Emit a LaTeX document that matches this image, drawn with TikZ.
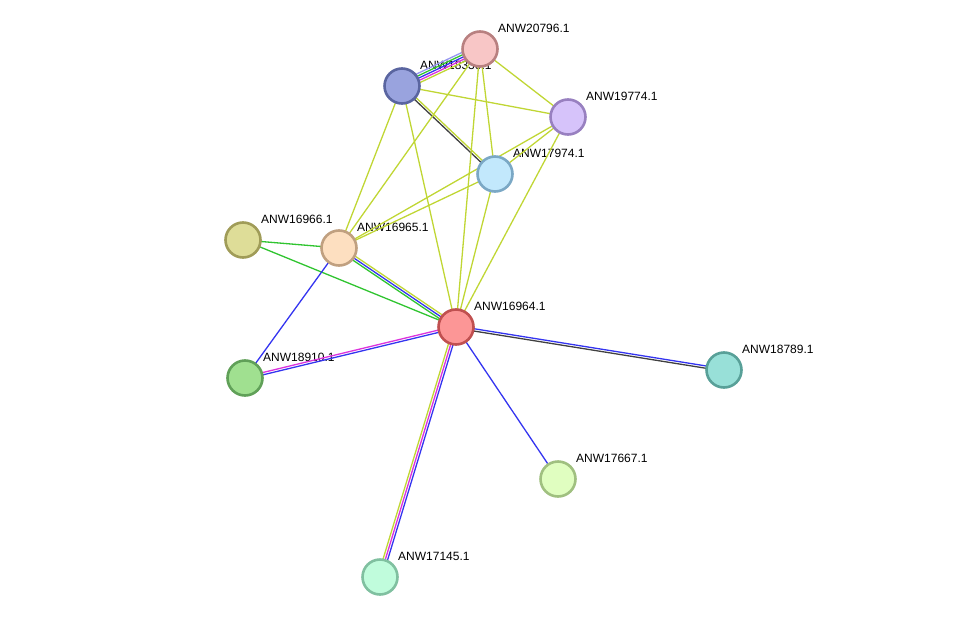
\documentclass[tikz,border=0pt]{standalone}
\usepackage{fontspec}
\setmainfont{Liberation Sans}
\usetikzlibrary{calc}
\pgfdeclarelayer{lab}
\pgfdeclarelayer{edge}
\pgfsetlayers{lab,edge,main}
\definecolor{tm}{RGB}{192,214,52}
\definecolor{gr}{RGB}{48,196,48}
\definecolor{bl}{RGB}{52,52,240}
\definecolor{mg}{RGB}{220,50,220}
\definecolor{dk}{RGB}{64,64,64}
\definecolor{lv}{RGB}{150,150,240}
\definecolor{f20796}{RGB}{248,198,198}\definecolor{d20796}{RGB}{184,128,128}
\definecolor{f18330}{RGB}{153,163,222}\definecolor{d18330}{RGB}{90,101,160}
\definecolor{f19774}{RGB}{214,195,250}\definecolor{d19774}{RGB}{152,128,192}
\definecolor{f17974}{RGB}{194,232,252}\definecolor{d17974}{RGB}{123,168,197}
\definecolor{f16966}{RGB}{222,221,152}\definecolor{d16966}{RGB}{160,156,88}
\definecolor{f16965}{RGB}{253,223,192}\definecolor{d16965}{RGB}{192,160,128}
\definecolor{f16964}{RGB}{252,150,150}\definecolor{d16964}{RGB}{192,80,80}
\definecolor{f18910}{RGB}{160,224,144}\definecolor{d18910}{RGB}{96,160,88}
\definecolor{f18789}{RGB}{152,224,216}\definecolor{d18789}{RGB}{88,160,152}
\definecolor{f17667}{RGB}{224,254,192}\definecolor{d17667}{RGB}{160,192,128}
\definecolor{f17145}{RGB}{192,252,220}\definecolor{d17145}{RGB}{128,192,160}
\tikzset{
  prot/.style={circle,minimum size=35pt,inner sep=0pt,line width=2.6pt},
  lbl/.style={anchor=base west,inner sep=0pt,font=\fontsize{12}{14}\selectfont},
  ln/.style={line width=1.3pt},
}
\newcommand{\pe}[4]{\draw[ln,#3] ($(#1)!#4!90:(#2)$) -- ($(#2)!#4!-90:(#1)$);}
\newcommand{\protnode}[3]{%
  \node[prot,fill=f#1,draw=d#1] (p#1) at (#2,#3) {};
}
\begin{document}
\begin{tikzpicture}[x=1pt,y=-1pt]
\useasboundingbox (0,0) rectangle (976,623);
\protnode{20796}{480}{49}
\protnode{18330}{402}{86}
\protnode{19774}{568}{117}
\protnode{17974}{495}{174}
\protnode{16966}{243}{240}
\protnode{16965}{339}{248}
\protnode{16964}{456}{327}
\protnode{18910}{245}{378}
\protnode{18789}{724}{370}
\protnode{17667}{558}{479}
\protnode{17145}{380}{577}
\begin{pgfonlayer}{lab}
\node[lbl] (t20796) at (498,32.5) {ANW20796.1};
\node[lbl] (t18330) at (420,69.5) {ANW18330.1};
\node[lbl] (t19774) at (586,100.5) {ANW19774.1};
\node[lbl] (t17974) at (513,157.5) {ANW17974.1};
\node[lbl] (t16966) at (261,223.5) {ANW16966.1};
\node[lbl] (t16965) at (357,231.5) {ANW16965.1};
\node[lbl] (t16964) at (474,310.5) {ANW16964.1};
\node[lbl] (t18910) at (263,361.5) {ANW18910.1};
\node[lbl] (t18789) at (742,353.5) {ANW18789.1};
\node[lbl] (t17667) at (576,462.5) {ANW17667.1};
\node[lbl] (t17145) at (398,560.5) {ANW17145.1};
\end{pgfonlayer}
\begin{pgfonlayer}{edge}
\pe{p18330}{p20796}{lv}{4.6pt}
\pe{p18330}{p20796}{gr}{2.3pt}
\pe{p18330}{p20796}{bl}{0pt}
\pe{p18330}{p20796}{mg}{-2.3pt}
\pe{p18330}{p20796}{tm}{-4.6pt}
\pe{p18330}{p19774}{tm}{0pt}
\pe{p18330}{p17974}{dk}{-1.15pt}
\pe{p18330}{p17974}{tm}{1.15pt}
\pe{p18330}{p16965}{tm}{0pt}
\pe{p18330}{p16964}{tm}{0pt}
\pe{p20796}{p19774}{tm}{0pt}
\pe{p20796}{p17974}{tm}{0pt}
\pe{p20796}{p16965}{tm}{0pt}
\pe{p20796}{p16964}{tm}{0pt}
\pe{p19774}{p17974}{tm}{0pt}
\pe{p19774}{p16965}{tm}{0pt}
\pe{p19774}{p16964}{tm}{0pt}
\pe{p17974}{p16965}{tm}{0pt}
\pe{p17974}{p16964}{tm}{0pt}
\pe{p16966}{p16965}{gr}{0pt}
\pe{p16966}{p16964}{gr}{0pt}
\pe{p16965}{p16964}{tm}{2.3pt}
\pe{p16965}{p16964}{bl}{0pt}
\pe{p16965}{p16964}{gr}{-2.3pt}
\pe{p16965}{p18910}{bl}{0pt}
\pe{p16964}{p18910}{mg}{-1.15pt}
\pe{p16964}{p18910}{bl}{1.15pt}
\pe{p16964}{p18789}{bl}{1.15pt}
\pe{p16964}{p18789}{dk}{-1.15pt}
\pe{p16964}{p17667}{bl}{0pt}
\pe{p16964}{p17145}{tm}{-2.3pt}
\pe{p16964}{p17145}{mg}{0pt}
\pe{p16964}{p17145}{bl}{2.3pt}
\end{pgfonlayer}
\end{tikzpicture}
\end{document}
